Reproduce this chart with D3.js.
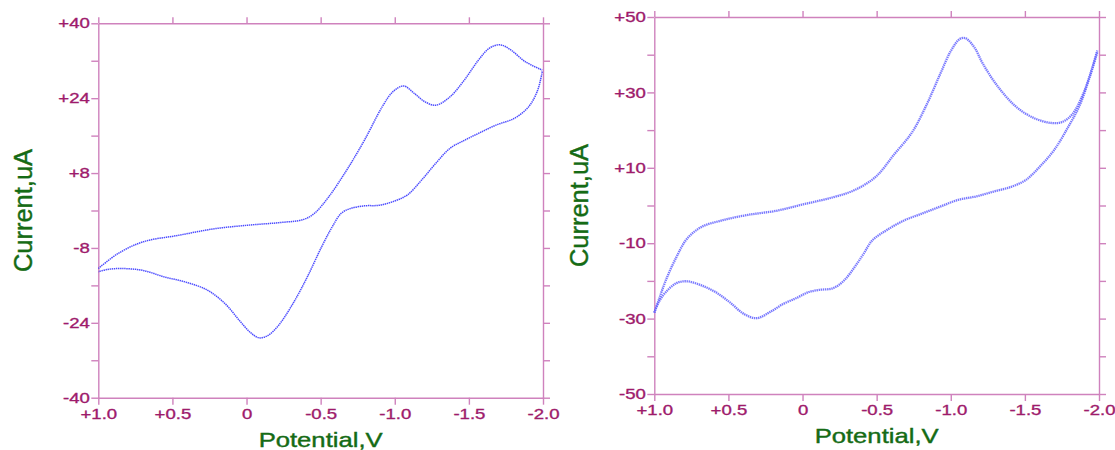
<!DOCTYPE html>
<html>
<head>
<meta charset="utf-8">
<script src="https://cdn.jsdelivr.net/npm/d3@7"></script>
<style>
  body { margin: 0; background: #fff; }
  svg { display: block; }
  .axis path, .axis line { stroke: #cf82bd; stroke-width: 1.4; }
  .axis text { fill: #9e1b6c; stroke: #9e1b6c; stroke-width: 0.35px; font-family: "Liberation Sans", Arial, sans-serif; font-size: 14.5px; }
  .title { fill: #156b15; stroke: #156b15; stroke-width: 0.4px; font-family: "Liberation Sans", Arial, sans-serif; }
</style>
</head>
<body>
<svg id="chart" width="1115" height="450"></svg>
<script>
// potential ticks (V), shared by both panels
const xTicks = [1.0, 0.5, 0, -0.5, -1.0, -1.5, -2.0];
const xTickLabels = ['+1.0', '+0.5', '0', '-0.5', '-1.0', '-1.5', '-2.0'];

// left panel current ticks (uA)
const leftYTicks = [40, 32, 24, 16, 8, 0, -8, -16, -24, -32, -40];
const leftYLabels = { 40: '+40', 24: '+24', 8: '+8', '-8': '-8', '-24': '-24', '-40': '-40' };

// right panel current ticks (uA)
const rightYTicks = [50, 40, 30, 20, 10, 0, -10, -20, -30, -40, -50];
const rightYLabels = { 50: '+50', 30: '+30', 10: '+10', '-10': '-10', '-30': '-30', '-50': '-50' };

// left voltammogram, scan +1.0 -> -2.0  [V, uA]
const leftForward = [
  [1.0, -12.4], [0.867, -9.2], [0.699, -6.7], [0.458, -5.3], [0.217, -3.9],
  [-0.024, -3.1], [-0.217, -2.6], [-0.386, -1.9], [-0.458, -0.6], [-0.554, 2.9],
  [-0.675, 8.6], [-0.795, 15.0], [-0.916, 22.2], [-0.988, 25.4], [-1.060, 26.6],
  [-1.133, 25.0], [-1.205, 23.2], [-1.277, 22.5], [-1.373, 24.3], [-1.470, 27.9],
  [-1.566, 32.2], [-1.639, 34.7], [-1.711, 35.4], [-1.783, 34.3], [-1.880, 31.8],
  [-1.995, 30.0]
];

// left voltammogram, scan -2.0 -> +1.0
const leftReverse = [
  [-1.995, 29.7], [-1.964, 25.7], [-1.904, 22.2], [-1.807, 19.7], [-1.687, 18.3],
  [-1.566, 16.5], [-1.470, 15.0], [-1.373, 13.3], [-1.277, 10.1], [-1.181, 6.5],
  [-1.084, 3.3], [-0.988, 1.9], [-0.892, 1.1], [-0.795, 1.0], [-0.699, 0.4],
  [-0.639, -0.6], [-0.578, -3.5], [-0.506, -7.8], [-0.410, -14.2], [-0.313, -19.9],
  [-0.217, -24.5], [-0.145, -26.7], [-0.084, -27.2], [-0.024, -26.0], [0.048, -23.5],
  [0.145, -19.9], [0.265, -17.0], [0.410, -15.3], [0.554, -14.2], [0.699, -12.8],
  [0.843, -12.4], [0.940, -12.6], [1.0, -13.1]
];

// right voltammogram, scan +1.0 -> -2.0
const rightForward = [
  [1.0, -28.4], [0.971, -25.2], [0.923, -19.9], [0.851, -13.7], [0.779, -8.8],
  [0.682, -5.7], [0.538, -3.9], [0.370, -2.5], [0.177, -1.4], [-0.015, 0.4],
  [-0.208, 2.2], [-0.352, 4.1], [-0.496, 7.7], [-0.617, 13.5], [-0.737, 19.3],
  [-0.833, 26.4], [-0.929, 34.9], [-1.002, 41.1], [-1.062, 44.2], [-1.098, 44.4],
  [-1.158, 42.0], [-1.218, 37.5], [-1.315, 31.7], [-1.435, 26.4], [-1.555, 23.3],
  [-1.676, 21.9], [-1.748, 22.1], [-1.820, 24.2], [-1.892, 29.5], [-1.952, 36.2],
  [-1.988, 41.1]
];

// right voltammogram, scan -2.0 -> +1.0
const rightReverse = [
  [-1.988, 40.6], [-1.940, 34.4], [-1.868, 26.4], [-1.796, 21.1], [-1.699, 14.8],
  [-1.603, 10.4], [-1.507, 6.8], [-1.411, 5.0], [-1.290, 3.7], [-1.170, 2.4],
  [-1.050, 1.5], [-0.929, -0.3], [-0.809, -2.1], [-0.689, -3.9], [-0.569, -6.5],
  [-0.472, -9.2], [-0.412, -12.8], [-0.352, -16.3], [-0.280, -19.9], [-0.208, -21.9],
  [-0.111, -22.4], [-0.039, -23.0], [0.033, -24.4], [0.129, -26.1], [0.225, -28.4],
  [0.310, -29.9], [0.394, -28.8], [0.490, -25.7], [0.586, -23.0], [0.682, -21.2],
  [0.779, -20.1], [0.851, -20.6], [0.923, -23.0], [0.971, -25.7], [1.0, -28.4]
];

const svg = d3.select('#chart');

// widen text horizontally like the original export
function stretch(sel, k) {
  sel.each(function () {
    const w = this.getComputedTextLength();
    d3.select(this).attr('textLength', w * k).attr('lengthAdjust', 'spacingAndGlyphs');
  });
}

function drawPanel(p) {
  const x = d3.scaleLinear().domain([1, -2]).range([p.left, p.right]);
  const y = d3.scaleLinear().domain(p.yDomain).range([p.bottom, p.top]);

  const xFmt = v => xTickLabels[xTicks.indexOf(v)];
  const yFmt = v => p.yLabels[v] || '';

  // bottom
  const gb = svg.append('g').attr('class', 'axis')
    .attr('transform', `translate(0,${p.bottom})`)
    .call(d3.axisBottom(x).tickValues(xTicks).tickFormat(xFmt).tickSize(7).tickSizeOuter(0));
  gb.selectAll('text').attr('y', 11).attr('dy', '0.71em');

  // top
  svg.append('g').attr('class', 'axis')
    .attr('transform', `translate(0,${p.top})`)
    .call(d3.axisTop(x).tickValues(xTicks).tickFormat('').tickSize(6).tickSizeOuter(0));

  // left
  const gl = svg.append('g').attr('class', 'axis')
    .attr('transform', `translate(${p.left},0)`)
    .call(d3.axisLeft(y).tickValues(p.yTicks).tickFormat(yFmt).tickSize(7).tickSizeOuter(0));
  gl.selectAll('text').attr('x', -8.5);

  // right
  svg.append('g').attr('class', 'axis')
    .attr('transform', `translate(${p.right},0)`)
    .call(d3.axisRight(y).tickValues(p.yTicks).tickFormat('').tickSize(7).tickSizeOuter(0));

  stretch(gb.selectAll('text'), 1.28);
  stretch(gl.selectAll('text'), 1.28);

  // curves
  const line = d3.line()
    .x(d => x(d[0]))
    .y(d => y(d[1]))
    .curve(d3.curveCatmullRom.alpha(0.5));

  svg.append('g')
    .selectAll('path')
    .data([p.forward, p.reverse])
    .enter()
    .append('path')
    .attr('d', line)
    .attr('fill', 'none')
    .attr('stroke', p.lineColor)
    .attr('stroke-width', p.lineWidth)
    .attr('stroke-opacity', 0.85)
    .attr('stroke-dasharray', '1.4,0.7');

  // axis titles
  svg.append('text')
    .attr('class', 'title')
    .attr('x', (p.left + p.right) / 2)
    .attr('y', p.bottom + 49)
    .attr('text-anchor', 'middle')
    .style('font-size', '21px')
    .attr('textLength', 124)
    .attr('lengthAdjust', 'spacingAndGlyphs')
    .text('Potential,V');

  svg.append('text')
    .attr('class', 'title')
    .attr('transform', `translate(${p.left - 66},${(p.top + p.bottom) / 2}) rotate(-90)`)
    .attr('text-anchor', 'middle')
    .style('font-size', '25px')
    .attr('textLength', 123)
    .attr('lengthAdjust', 'spacingAndGlyphs')
    .text('Current,uA');
}

drawPanel({
  left: 98.3, right: 543, top: 23.3, bottom: 397.7,
  yDomain: [-40, 40], yTicks: leftYTicks, yLabels: leftYLabels,
  forward: leftForward, reverse: leftReverse,
  lineColor: '#2b2bff', lineWidth: 1.5
});

drawPanel({
  left: 654.3, right: 1099, top: 17, bottom: 394,
  yDomain: [-50, 50], yTicks: rightYTicks, yLabels: rightYLabels,
  forward: rightForward, reverse: rightReverse,
  lineColor: '#6262ff', lineWidth: 2.3
});
</script>
</body>
</html>
